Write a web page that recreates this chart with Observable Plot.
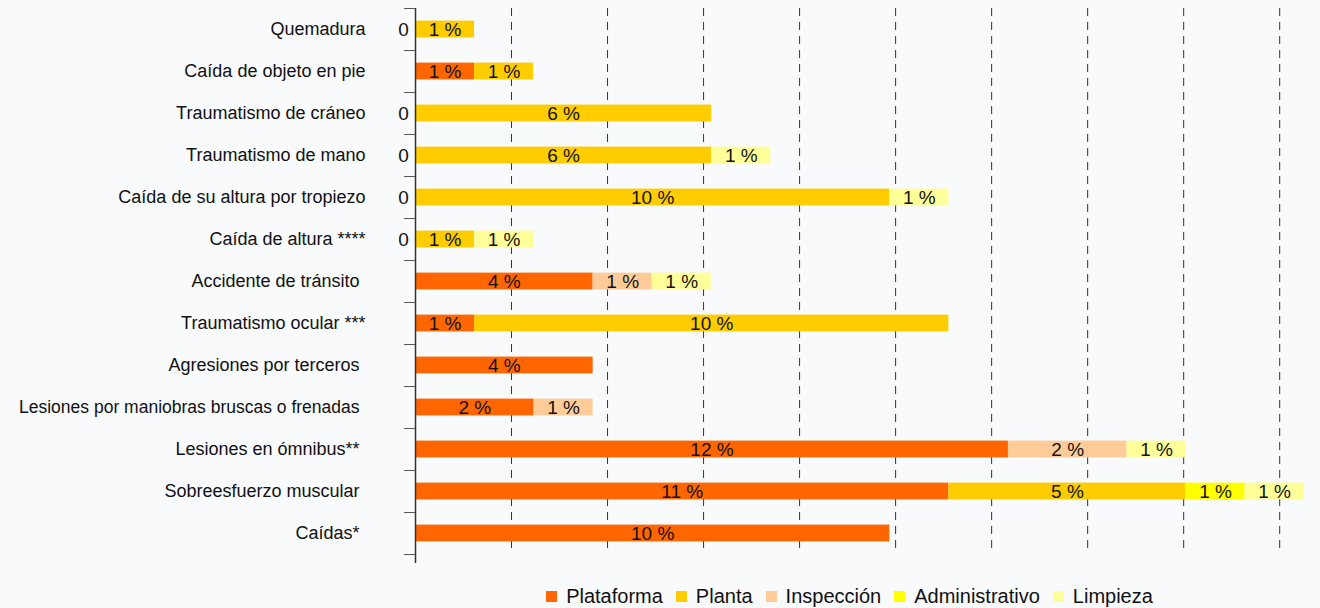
<!DOCTYPE html>
<html>
<head>
<meta charset="utf-8">
<script src="https://cdn.jsdelivr.net/npm/d3@7"></script>
<script src="https://cdn.jsdelivr.net/npm/@observablehq/plot@0.6"></script>
<style>
  html, body { margin: 0; padding: 0; background: #f8fafc; }
  #chart svg { display: block; }
  #legend { margin-left: 379px; width: 954px; }
  .lg-swatches { justify-content: center; margin-bottom: 0 !important; }
  .lg-swatches .lg-swatch { margin-right: 13px !important; }
  .lg-swatches .lg-swatch svg { margin-right: 9px !important; }
</style>
</head>
<body>
<div id="chart"></div>
<div id="legend"></div>
<script>
// Categories, top to bottom
const categories = [
  "Quemadura",
  "Caída de objeto en pie",
  "Traumatismo de cráneo",
  "Traumatismo de mano",
  "Caída de su altura por tropiezo",
  "Caída de altura ****",
  "Accidente de tránsito",
  "Traumatismo ocular ***",
  "Agresiones por terceros",
  "Lesiones por maniobras bruscas o frenadas",
  "Lesiones en ómnibus**",
  "Sobreesfuerzo muscular",
  "Caídas*"
];

// Series (stack order) and colours
const series = ["Plataforma", "Planta", "Inspección", "Administrativo", "Limpieza"];
const colors = ["#ff6600", "#ffcc00", "#ffcc99", "#ffff00", "#ffff99"];

// Values in % (null = not present)
const plataforma     = [0, 1.23, 0, 0, 0, 0, 3.70, 1.23, 3.70, 2.47, 12.35, 11.11, 9.88];
const planta         = [1.23, 1.23, 6.17, 6.17, 9.88, 1.23, null, 9.88, null, null, null, 4.94, null];
const inspeccion     = [null, null, null, null, null, null, 1.23, null, null, 1.23, 2.47, null, null];
const administrativo = [null, null, null, null, null, null, null, null, null, null, null, 1.23, null];
const limpieza       = [null, null, null, 1.23, 1.23, 1.23, 1.23, null, null, null, 1.23, 1.23, null];

// Gridline positions (%)
const gridTicks = [2, 4, 6, 8, 10, 12, 14, 16, 18];

// Label drawn with a different (Arial-like) font in the original
const arialLabel = "Lesiones por maniobras bruscas o frenadas";
// Labels that sit slightly further from the axis in the original
const innerLabels = ["Accidente de tránsito", "Agresiones por terceros", "Lesiones en ómnibus**", "Sobreesfuerzo muscular", "Caídas*"];

const seriesValues = [plataforma, planta, inspeccion, administrativo, limpieza];
const rows = [];
categories.forEach((cat, i) => {
  series.forEach((s, j) => {
    const v = seriesValues[j][i];
    if (v !== null && v !== undefined) rows.push({cat, series: s, value: v});
  });
});
const labeled = rows.filter(d => d.value > 0);
const zeros = rows.filter(d => d.value === 0);
const fmt = v => v === 0 ? "0" : Math.round(v) + " %";

const font = "'Liberation Sans', Arial, sans-serif";

const chart = Plot.plot({
  width: 1320,
  height: 580,
  marginTop: 8,
  marginBottom: 17,
  marginLeft: 415,
  marginRight: 12,
  style: {background: "#f8fafc", fontFamily: font, fontSize: "18px", color: "#111"},
  x: {domain: [0, 18.6], axis: null},
  y: {domain: categories, paddingInner: 0.6, paddingOuter: 0.3, insetBottom: 9, round: false, axis: null, label: null},
  color: {domain: series, range: colors},
  marks: [
    Plot.ruleX(gridTicks, {stroke: "#333", strokeWidth: 1, strokeDasharray: "8,6", insetBottom: 9}),
    Plot.barX(rows, Plot.stackX({x: "value", y: "cat", fill: "series", order: series})),
    Plot.text(labeled, Plot.stackX({x: "value", y: "cat", z: "series", order: series, text: d => fmt(d.value), fill: "#111", fontSize: 19})),
    Plot.text(zeros, {x: "value", y: "cat", text: d => fmt(d.value), dx: -12, fill: "#111", fontSize: 19}),
    Plot.ruleX([0], {stroke: "#333", strokeWidth: 1.5}),
    Plot.axisY({tickSize: 11, tickFormat: () => "", dy: -21, color: "#555", label: null}),
    Plot.axisY([categories[categories.length - 1]], {tickSize: 11, tickFormat: () => "", dy: 21, color: "#555", label: null}),
    Plot.axisY(categories.filter(c => c !== arialLabel && !innerLabels.includes(c)), {tickSize: 0, tickPadding: 50, fontSize: 18, color: "#111", label: null}),
    Plot.axisY(innerLabels, {tickSize: 0, tickPadding: 56, fontSize: 18, color: "#111", label: null}),
    Plot.axisY([arialLabel], {tickSize: 0, tickPadding: 56, fontSize: 17.5, color: "#111", label: null})
  ]
});
document.getElementById("chart").appendChild(chart);

const legend = Plot.legend({
  color: {domain: series, range: colors},
  legend: "swatches",
  swatchSize: 11,
  className: "lg",
  style: {fontSize: "20px", fontFamily: font, color: "#111", background: "transparent"}
});
document.getElementById("legend").appendChild(legend);
</script>
</body>
</html>
